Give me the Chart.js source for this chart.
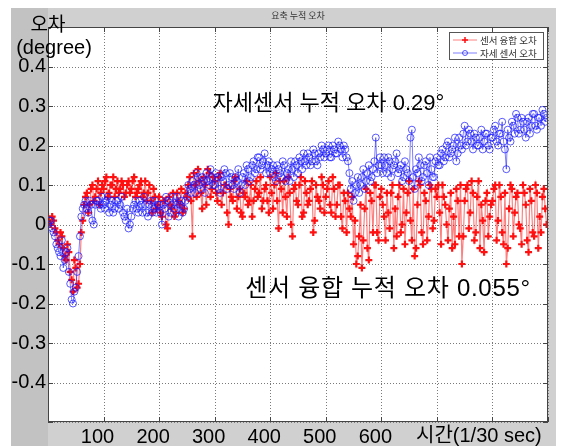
<!DOCTYPE html>
<html>
<head>
<meta charset="utf-8">
<script src="https://cdn.jsdelivr.net/npm/chart.js@4"></script>
<style>
  html, body { margin: 0; padding: 0; background: #fff; }
  canvas { display: block; }
</style>
</head>
<body>
<canvas id="myChart" width="564" height="446"></canvas>
<script>
// sample frame numbers (1/30 sec each): every 5th frame, plus the in-between set
const frames = Array.from({ length: 180 }, (_, i) => i * 5);
const halfFrames = Array.from({ length: 180 }, (_, i) => i * 5 + 2.5);

// 센서 융합 오차 (red) at frames
const fusionErr = [
  0.02, 0.0, 0.01, -0.02, -0.05, -0.03, -0.08, -0.05, -0.12, -0.17, -0.11, -0.15, -0.02, 0.05, 0.08, 0.05, 0.1, 0.07, 0.11, 0.08,
  0.09, 0.12, 0.08, 0.1, 0.07, 0.11, 0.09, 0.1, 0.08, 0.11, 0.09, 0.12, 0.08, 0.1, 0.07, 0.11, 0.08, 0.06, 0.09, 0.04,
  0.07, 0.02, 0.06, -0.01, 0.05, 0.08, 0.03, 0.06, 0.09, 0.04, 0.07, 0.12, -0.03, 0.1, 0.14, 0.08, 0.12, 0.05, 0.13, 0.09,
  0.11, 0.06, 0.13, 0.08, 0.1, 0.0, 0.07, 0.11, 0.04, 0.09, 0.02, 0.07, 0.05, 0.1, 0.06, 0.11, 0.08, 0.04, 0.09, 0.06,
  0.12, 0.04, 0.13, -0.01, 0.09, 0.11, 0.02, 0.08, -0.03, 0.1, 0.05, 0.12, 0.03, 0.08, 0.06, 0.11, 0.01, 0.07, 0.04, 0.1,
  0.07, 0.11, 0.03, 0.09, 0.05, 0.1, -0.01, 0.06, 0.08, 0.02, -0.05, -0.1, -0.03, -0.11, 0.04, -0.06, 0.08, -0.02, 0.1, -0.04,
  0.09, 0.02, 0.08, -0.01, 0.1, 0.04, 0.07, -0.02, 0.09, 0.03, 0.11, -0.04, -0.08, 0.05, 0.1, -0.05, 0.06, 0.02, 0.09, 0.01,
  0.07, 0.03, 0.1, 0.05, -0.04, 0.08, 0.02, 0.09, -0.03, -0.1, 0.06, 0.1, 0.03, 0.08, -0.02, 0.11, 0.05, -0.07, 0.08, 0.02,
  0.06, 0.1, 0.01, 0.07, -0.05, -0.1, 0.04, 0.09, 0.03, 0.08, -0.01, 0.1, 0.05, -0.07, 0.06, -0.03, 0.08, 0.02, 0.07, 0.04
];

// 센서 융합 오차 (red) at halfFrames
const fusionErrHalf = [
  0.01, 0.02, -0.01, -0.04, -0.02, -0.06, -0.09, -0.07, -0.14, -0.09, -0.16, -0.1, 0.01, 0.07, 0.03, 0.09, 0.06, 0.09, 0.05, 0.1,
  0.11, 0.07, 0.1, 0.12, 0.09, 0.08, 0.11, 0.07, 0.1, 0.08, 0.11, 0.07, 0.09, 0.11, 0.08, 0.06, 0.1, 0.03, 0.07, 0.05,
  0.03, 0.06, 0.0, 0.07, 0.04, 0.02, 0.08, 0.05, 0.03, 0.08, 0.1, 0.06, 0.13, 0.07, 0.11, 0.04, 0.1, 0.14, 0.07, 0.12,
  0.08, 0.12, 0.05, 0.1, 0.03, 0.09, 0.06, 0.12, 0.07, 0.03, 0.08, 0.11, 0.06, 0.02, 0.09, 0.07, 0.12, 0.06, 0.1, 0.03,
  0.08, 0.1, 0.06, 0.11, 0.03, 0.07, 0.12, 0.0, 0.09, 0.06, 0.1, 0.02, 0.11, 0.05, 0.09, -0.02, 0.1, 0.06, 0.12, 0.03,
  0.09, 0.05, 0.12, 0.02, 0.1, 0.02, 0.08, -0.02, 0.04, 0.07, 0.01, -0.08, 0.05, -0.04, 0.09, -0.09, 0.06, 0.1, -0.02, 0.07,
  0.05, -0.04, 0.03, 0.08, -0.06, -0.03, 0.1, 0.0, -0.05, 0.08, 0.01, 0.09, -0.06, 0.11, -0.02, 0.08, -0.04, 0.1, -0.01, 0.09,
  0.1, -0.05, 0.07, 0.0, 0.04, -0.06, -0.05, 0.06, 0.1, -0.03, 0.09, -0.01, 0.11, -0.04, 0.07, -0.06, 0.01, 0.06, -0.03, 0.05,
  0.09, -0.04, 0.1, -0.02, 0.08, -0.06, 0.1, -0.03, 0.07, 0.0, -0.05, 0.08, -0.04, 0.09, -0.02, 0.1, -0.06, -0.02, 0.09, 0.0
];

// 자세 센서 오차 (blue) at frames
const attitudeErr = [
  0.0, 0.01, -0.02, -0.05, -0.07, -0.04, -0.09, -0.06, -0.15, -0.2, -0.16, -0.08, 0.02, 0.05, 0.04, 0.06, 0.01, 0.05, 0.06, 0.04,
  0.05, 0.06, 0.03, 0.06, 0.04, 0.06, 0.05, 0.03, 0.01, -0.01, 0.02, 0.05, 0.04, 0.06, 0.03, 0.05, 0.02, 0.06, 0.04, 0.03,
  0.05, 0.0, 0.04, 0.06, 0.03, 0.07, 0.05, 0.02, 0.06, 0.04, 0.07, 0.09, 0.11, 0.08, 0.12, 0.09, 0.11, 0.13, 0.1, 0.12,
  0.1, 0.12, 0.08, 0.11, 0.13, 0.1, 0.12, 0.09, 0.11, 0.08, 0.12, 0.1, 0.14, 0.12, 0.16, 0.14, 0.17, 0.15, 0.18, 0.15,
  0.13, 0.15, 0.11, 0.14, 0.12, 0.15, 0.13, 0.11, 0.14, 0.16, 0.13, 0.16, 0.18, 0.15, 0.17, 0.16, 0.18, 0.15, 0.17, 0.19,
  0.18, 0.2, 0.17, 0.19, 0.18, 0.2, 0.17, 0.19, 0.16, 0.09, 0.06, 0.1, 0.08, 0.12, 0.09, 0.13, 0.11, 0.14, 0.22, 0.15,
  0.15, 0.17, 0.13, 0.16, 0.14, 0.16, 0.13, 0.15, 0.12, 0.14, 0.11, 0.24, 0.09, 0.13, 0.15, 0.12, 0.16, 0.1, 0.14, 0.12,
  0.17, 0.15, 0.19, 0.17, 0.21, 0.18, 0.2, 0.16, 0.22, 0.19, 0.25, 0.21, 0.23, 0.19, 0.22, 0.2, 0.24, 0.21, 0.23, 0.19,
  0.22, 0.25, 0.2, 0.23, 0.21, 0.14, 0.22, 0.26, 0.23, 0.27, 0.24, 0.26, 0.22, 0.27, 0.25, 0.28, 0.24, 0.27, 0.29, 0.26
];

// 자세 센서 오차 (blue) at halfFrames
const attitudeErrHalf = [
  0.01, -0.01, -0.03, -0.06, -0.08, -0.11, -0.07, -0.12, -0.19, -0.17, -0.12, -0.03, 0.04, 0.06, 0.03, 0.05, 0.0, 0.06, 0.05, 0.07,
  0.04, 0.07, 0.05, 0.03, 0.06, 0.04, 0.07, 0.02, 0.04, 0.0, 0.04, 0.06, 0.03, 0.05, 0.07, 0.03, 0.05, 0.03, 0.06, 0.05,
  0.03, 0.05, 0.07, 0.02, 0.05, 0.04, 0.07, 0.05, 0.03, 0.06, 0.1, 0.08, 0.1, 0.13, 0.1, 0.12, 0.08, 0.11, 0.14, 0.1,
  0.13, 0.09, 0.12, 0.14, 0.09, 0.13, 0.1, 0.12, 0.14, 0.1, 0.13, 0.15, 0.11, 0.15, 0.13, 0.17, 0.14, 0.16, 0.13, 0.16,
  0.14, 0.12, 0.15, 0.13, 0.16, 0.11, 0.14, 0.16, 0.12, 0.15, 0.17, 0.14, 0.16, 0.18, 0.15, 0.19, 0.16, 0.18, 0.2, 0.17,
  0.19, 0.17, 0.2, 0.18, 0.21, 0.19, 0.2, 0.17, 0.13, 0.11, 0.08, 0.12, 0.1, 0.14, 0.11, 0.15, 0.12, 0.16, 0.13, 0.17,
  0.13, 0.15, 0.17, 0.12, 0.15, 0.18, 0.14, 0.11, 0.16, 0.13, 0.22, 0.12, 0.14, 0.17, 0.11, 0.15, 0.13, 0.17, 0.12, 0.16,
  0.15, 0.18, 0.16, 0.2, 0.17, 0.19, 0.22, 0.18, 0.2, 0.23, 0.2, 0.24, 0.21, 0.23, 0.2, 0.22, 0.19, 0.23, 0.2, 0.22,
  0.24, 0.21, 0.23, 0.26, 0.19, 0.24, 0.21, 0.25, 0.28, 0.23, 0.27, 0.24, 0.26, 0.23, 0.28, 0.25, 0.27, 0.25, 0.28, 0.27
];

const xTickText = ['', '100', '200', '300', '400', '500', '600', '', '', ''];
const yTickText = ['', '-0.4', '-0.3', '-0.2', '-0.1', '0', '0.1', '0.2', '0.3', '0.4', ''];

const seriesNames = ['센서 융합 오차', '자세 센서 오차'];
const chartTitle = '요축 누적 오차';
const yTitle = ['오차', '(degree)'];
const xTitle = '시간(1/30 sec)';
const notes = ['자세센서 누적 오차 0.29°', '센서 융합 누적 오차 0.055°'];

const FONT = '"Liberation Sans", "Noto Sans CJK KR", sans-serif';
const KFONT = '"Noto Sans CJK KR", "Liberation Sans", sans-serif';

function toPoints(vals, halfVals) {
  const pts = [];
  vals.forEach((v, i) => {
    pts.push({ x: frames[i], y: v });
    pts.push({ x: halfFrames[i], y: halfVals[i] });
  });
  return pts;
}

const matlabFrame = {
  id: 'matlabFrame',
  beforeDraw(chart) {
    const c = chart.ctx, a = chart.chartArea;
    c.save();
    c.fillStyle = '#ffffff';
    c.fillRect(0, 0, chart.width, chart.height);
    c.fillStyle = '#d0d0d0';
    c.fillRect(11, 8, 545, 438);
    c.fillStyle = '#c2c2c2';
    c.fillRect(11, 8, a.left - 11, 438);
    c.fillStyle = '#ffffff';
    c.fillRect(a.left, a.top, a.right - a.left, a.bottom - a.top);
    c.restore();
  },
  beforeDatasetsDraw(chart) {
    // dotted grid + small inward ticks, from the scales' own ticks
    const c = chart.ctx, a = chart.chartArea;
    const sx = chart.scales.x, sy = chart.scales.y;
    c.save();
    c.lineWidth = 1;
    sx.ticks.forEach(t => {
      const x = Math.round(sx.getPixelForValue(t.value)) + 0.5;
      c.strokeStyle = '#7a7a7a';
      c.setLineDash([1, 2]);
      c.beginPath(); c.moveTo(x, a.top); c.lineTo(x, a.bottom); c.stroke();
      c.setLineDash([]);
      c.strokeStyle = '#444';
      c.beginPath();
      c.moveTo(x, a.bottom); c.lineTo(x, a.bottom - 5);
      c.moveTo(x, a.top); c.lineTo(x, a.top + 5);
      c.stroke();
    });
    sy.ticks.forEach(t => {
      const y = Math.round(sy.getPixelForValue(t.value)) + 0.5;
      c.strokeStyle = '#7a7a7a';
      c.setLineDash([1, 2]);
      c.beginPath(); c.moveTo(a.left, y); c.lineTo(a.right, y); c.stroke();
      c.setLineDash([]);
      c.strokeStyle = '#444';
      c.beginPath();
      c.moveTo(a.left, y); c.lineTo(a.left + 5, y);
      c.moveTo(a.right, y); c.lineTo(a.right - 5, y);
      c.stroke();
    });
    c.restore();
  },
  afterDraw(chart) {
    const c = chart.ctx, a = chart.chartArea;
    const sx = chart.scales.x, sy = chart.scales.y;
    c.save();
    // box
    c.strokeStyle = '#444';
    c.lineWidth = 1;
    c.strokeRect(a.left + 0.5, a.top + 0.5, a.right - a.left - 1, a.bottom - a.top - 1);

    // title
    c.fillStyle = '#333';
    c.font = '9px ' + KFONT;
    c.textAlign = 'center';
    c.textBaseline = 'middle';
    c.fillText(chartTitle, (a.left + a.right) / 2, 16);

    // y title
    c.fillStyle = '#000';
    c.font = '19px ' + KFONT;
    c.fillText(yTitle[0], 48, 24);
    c.font = '20px ' + FONT;
    c.fillText(yTitle[1], 54, 48);

    // x title
    c.textAlign = 'left';
    c.font = '20px ' + FONT;
    c.fillText(xTitle, 416, 436);

    // notes
    c.font = '22px ' + FONT;
    c.fillText(notes[0], sx.getPixelForValue(296), sy.getPixelForValue(0.305));
    c.font = '24px ' + FONT;
    c.letterSpacing = '0.7px';
    c.fillText(notes[1], sx.getPixelForValue(355), sy.getPixelForValue(-0.163));
    c.letterSpacing = '0px';

    // legend
    const lx = 449, ly = 32, lw = 95, lh = 28;
    c.fillStyle = '#fff';
    c.fillRect(lx, ly, lw, lh);
    c.strokeStyle = '#555';
    c.strokeRect(lx + 0.5, ly + 0.5, lw - 1, lh - 1);
    c.font = '9.5px ' + KFONT;
    chart.data.datasets.slice().sort((p, q) => p.legendIndex - q.legendIndex).forEach((ds, i) => {
      const y = ly + 8 + i * 13;
      c.strokeStyle = ds.borderColor;
      c.lineWidth = 1;
      c.beginPath();
      c.moveTo(lx + 4, y);
      c.lineTo(lx + 28, y);
      c.stroke();
      c.strokeStyle = ds.pointBorderColor;
      c.beginPath();
      if (ds.pointStyle === 'circle') {
        c.arc(lx + 16, y, 2.5, 0, Math.PI * 2);
      } else {
        c.lineWidth = 1.5;
        c.moveTo(lx + 13, y); c.lineTo(lx + 19, y);
        c.moveTo(lx + 16, y - 3); c.lineTo(lx + 16, y + 3);
      }
      c.stroke();
      c.fillStyle = '#333';
      c.fillText(ds.label, lx + 31, y + 0.5);
    });
    c.restore();
  }
};

var ctx = document.getElementById('myChart');
var myChart = new Chart(ctx, {
  type: 'line',
  data: {
    datasets: [{
      label: seriesNames[0],
      legendIndex: 0,
      order: 1,
      data: toPoints(fusionErr, fusionErrHalf),
      borderColor: 'rgba(255,0,0,0.5)',
      borderWidth: 1.2,
      pointStyle: 'cross',
      pointRadius: 3.5,
      pointBorderWidth: 2.2,
      pointBorderColor: '#ff1010',
      pointBackgroundColor: '#ff1010',
      tension: 0
    }, {
      label: seriesNames[1],
      legendIndex: 1,
      order: 0,
      data: toPoints(attitudeErr, attitudeErrHalf),
      borderColor: 'rgba(0,0,255,0.5)',
      borderWidth: 1,
      pointStyle: 'circle',
      pointRadius: 3.5,
      pointBorderWidth: 1,
      pointBorderColor: 'rgba(20,20,255,0.7)',
      pointBackgroundColor: 'rgba(0,0,0,0)',
      tension: 0
    }]
  },
  options: {
    responsive: false,
    animation: false,
    devicePixelRatio: 1,
    layout: { padding: { left: 0, right: 16, top: 27, bottom: 0 } },
    plugins: {
      legend: { display: false },
      tooltip: { enabled: false }
    },
    scales: {
      x: {
        type: 'linear',
        min: 0,
        max: 900,
        afterFit(scale) { scale.height = 24; },
        ticks: {
          stepSize: 100,
          autoSkip: false,
          maxRotation: 0,
          padding: 3,
          labelOffset: -6,
          color: '#000',
          font: { family: FONT, size: 20 },
          callback: (v) => xTickText[Math.round(v / 100)] || ''
        },
        grid: { display: false, drawTicks: false },
        border: { display: false }
      },
      y: {
        min: -0.5,
        max: 0.5,
        afterFit(scale) { scale.width = 48; },
        ticks: {
          stepSize: 0.1,
          autoSkip: false,
          padding: 2,
          color: '#000',
          font: { family: FONT, size: 20 },
          callback: (v) => yTickText[Math.round((v + 0.5) * 10)] || ''
        },
        grid: { display: false, drawTicks: false },
        border: { display: false }
      }
    }
  },
  plugins: [matlabFrame]
});
</script>
</body>
</html>
